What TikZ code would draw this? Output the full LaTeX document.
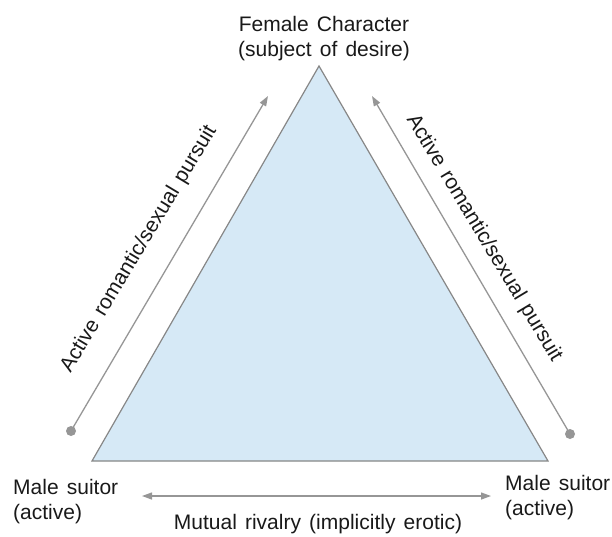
\documentclass[tikz,border=0pt]{standalone}
\usepackage{fontspec}
\setmainfont[WordSpace=1.4]{Liberation Sans}
\usetikzlibrary{arrows.meta}

\definecolor{linegray}{RGB}{150,150,150}
\definecolor{trigray}{RGB}{135,135,135}
\definecolor{trifill}{RGB}{214,233,246}
\definecolor{inkblack}{RGB}{25,25,25}

\tikzset{
  lbl/.style={font=\fontsize{21}{25}\selectfont, text=inkblack, inner sep=0pt},
  pursuit/.style={draw=linegray, line width=1.3pt, -{Triangle[length=10pt,width=7pt]}},
  rivalry/.style={draw=linegray, line width=1.3pt, {Triangle[length=10pt,width=7pt]}-{Triangle[length=10pt,width=7pt]}},
  enddot/.style={circle, fill=linegray, inner sep=0pt, minimum size=10pt}
}

\begin{document}
\begin{tikzpicture}[x=1pt, y=-1pt]
  \useasboundingbox (0,0) rectangle (612,536);

  % Draw the triangle
  \coordinate (apex) at (319,66);
  \coordinate (cornerL) at (92,461);
  \coordinate (cornerR) at (548,461);
  \draw[draw=trigray, line width=1.2pt, fill=trifill] (apex) -- (cornerR) -- (cornerL) -- cycle;

  % Corner labels
  \node[lbl, align=center] (female) at (324,39) {Female Character\\(subject of desire)};
  \node[lbl, align=left, anchor=north west] (suitorL) at (13,479) {Male suitor\\(active)};
  \node[lbl, align=left, anchor=north west] (suitorR) at (505,475) {Male suitor\\(active)};

  % Pursuit arrows
  \node[enddot] (dotL) at (71,431) {};
  \node[enddot] (dotR) at (570,434) {};
  \coordinate (tipL) at (268,96);
  \coordinate (tipR) at (372,96);
  \draw[pursuit] (dotL.center) -- (tipL);
  \draw[pursuit] (dotR.center) -- (tipR);
  \node[lbl, rotate=59] (pursuitL) at (139,249) {Active romantic/sexual pursuit};
  \node[lbl, rotate=-59] (pursuitR) at (484,238) {Active romantic/sexual pursuit};

  % Rivalry arrow
  \coordinate (rivalL) at (142,496);
  \coordinate (rivalR) at (491,496);
  \draw[rivalry] (rivalL) -- (rivalR);
  \node[lbl, anchor=base] (rivalry) at (318,529) {Mutual rivalry (implicitly erotic)};
\end{tikzpicture}
\end{document}
